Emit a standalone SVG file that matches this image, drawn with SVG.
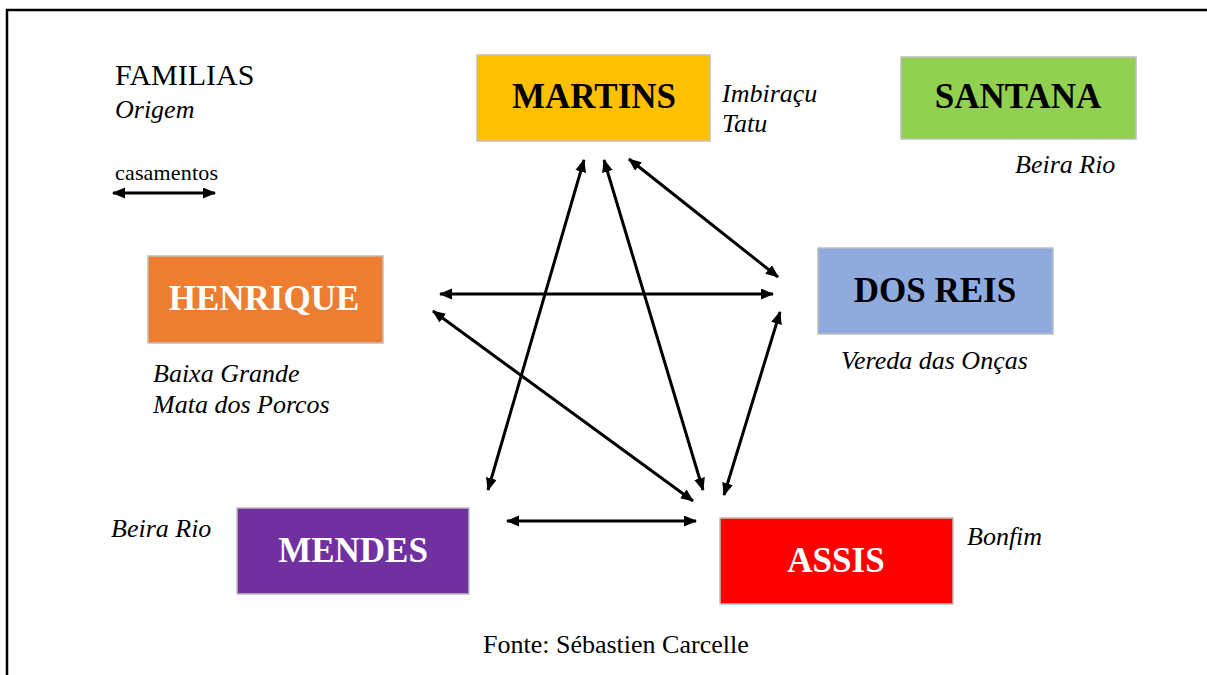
<svg xmlns="http://www.w3.org/2000/svg" width="1207" height="675" viewBox="0 0 1207 675">
<style>
.box{stroke:#bfbfbf;stroke-width:1.5}
.name{font-family:"Liberation Serif","Times New Roman",serif;font-weight:bold;font-size:35px;text-anchor:middle}
.place{font-family:"Liberation Serif","Times New Roman",serif;font-style:italic;font-size:26px;fill:#000}
.plain{font-family:"Liberation Serif","Times New Roman",serif;fill:#000}
.conn line{stroke:#000;stroke-width:3;marker-start:url(#ah);marker-end:url(#ah)}
</style>
<defs>
<marker id="ah" markerUnits="userSpaceOnUse" markerWidth="14" markerHeight="12" refX="12" refY="5.5" orient="auto-start-reverse">
<path d="M0,0 L13,5.5 L0,11 z" fill="#000"/>
</marker>
</defs>
<rect width="1207" height="675" fill="#fff"/>
<path d="M7,675 L7,10 L1207,10" fill="none" stroke="#000" stroke-width="2.5"/>

<g id="legend">
<text class="plain" x="115" y="85" font-size="30">FAMILIAS</text>
<text class="place" x="115" y="118" font-size="26">Origem</text>
<text class="plain" x="115" y="180" font-size="22" textLength="103">casamentos</text>
<line x1="113" y1="193" x2="215" y2="193" stroke="#000" stroke-width="3" marker-start="url(#ah)" marker-end="url(#ah)"/>
</g>

<g class="conn" id="connectors">
<line x1="584" y1="160" x2="488" y2="490"/>
<line x1="604" y1="160" x2="703" y2="490"/>
<line x1="629" y1="159" x2="778" y2="277"/>
<line x1="440" y1="294" x2="773" y2="294"/>
<line x1="433" y1="311" x2="693" y2="501"/>
<line x1="780" y1="312" x2="724" y2="495"/>
<line x1="507" y1="521" x2="696" y2="521"/>
</g>

<g id="martins">
<rect class="box" x="477" y="55" width="233" height="86" fill="#FFC000"/>
<text class="name" x="594" y="108" fill="#000">MARTINS</text>
<text class="place" x="722" y="102">Imbiraçu</text>
<text class="place" x="722" y="132">Tatu</text>
</g>

<g id="santana">
<rect class="box" x="901" y="57" width="235" height="82" fill="#92D050"/>
<text class="name" x="1018" y="108" fill="#000">SANTANA</text>
<text class="place" x="1015" y="173">Beira Rio</text>
</g>

<g id="henrique">
<rect class="box" x="148" y="256" width="235" height="87" fill="#ED7D31"/>
<text class="name" x="264" y="310" fill="#fff">HENRIQUE</text>
<text class="place" x="153" y="382">Baixa Grande</text>
<text class="place" x="153" y="413">Mata dos Porcos</text>
</g>

<g id="dosreis">
<rect class="box" x="818" y="248" width="235" height="86" fill="#8FAADC"/>
<text class="name" x="935" y="302" fill="#000">DOS REIS</text>
<text class="place" x="841" y="369">Vereda das Onças</text>
</g>

<g id="mendes">
<rect class="box" x="237" y="508" width="232" height="86" fill="#7030A0"/>
<text class="name" x="353" y="562" fill="#fff">MENDES</text>
<text class="place" x="111" y="537">Beira Rio</text>
</g>

<g id="assis">
<rect class="box" x="720" y="518" width="233" height="86" fill="#FF0000"/>
<text class="name" x="836" y="572" fill="#fff">ASSIS</text>
<text class="place" x="967" y="545">Bonfim</text>
</g>

<text class="plain" x="483" y="653" font-size="26">Fonte: Sébastien Carcelle</text>
</svg>
